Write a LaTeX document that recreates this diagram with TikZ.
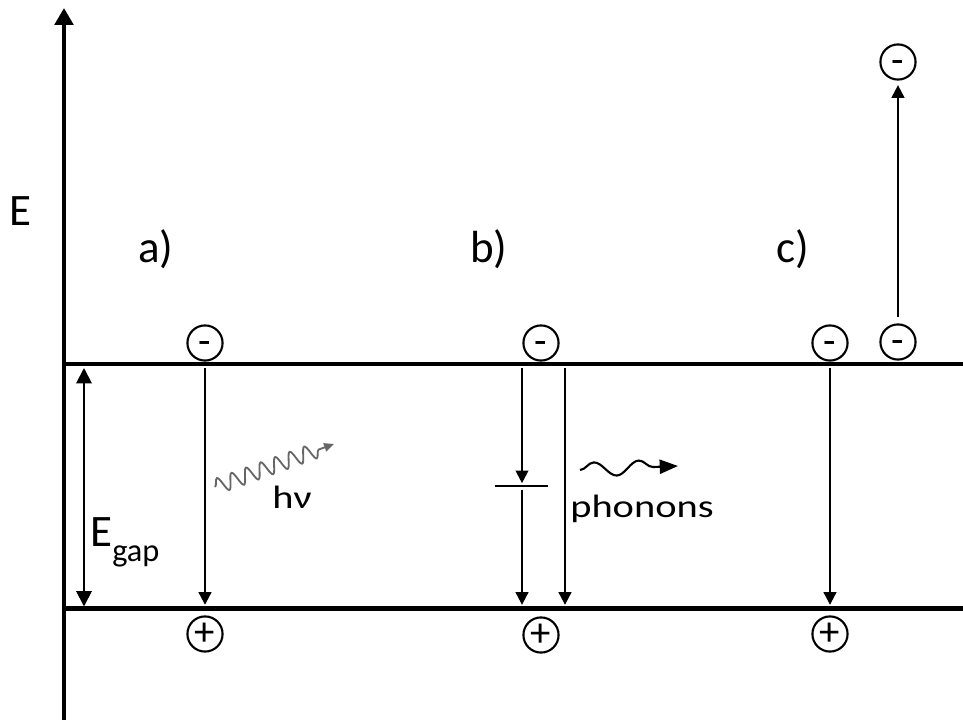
\documentclass[tikz,border=0pt]{standalone}
\usepackage{fontspec}
\setmainfont{Carlito}
\newfontfamily\widefont{Carlito}[FakeStretch=1.25]
\usetikzlibrary{arrows.meta,decorations.pathmorphing}

\begin{document}
\begin{tikzpicture}[x=0.025cm, y=-0.025cm, >={Triangle[length=9pt,width=9pt]}]
        \tikzstyle{charge}=[draw, circle, line width=1.5pt, minimum size=25pt, inner sep=0pt, font=\fontsize{29}{29}\selectfont];
        \tikzstyle{electron}=[charge, text height=17pt, text depth=0pt];
        \tikzstyle{band}=[line width=3.2pt];
        \tikzstyle{trans}=[->, line width=1.5pt];
        \tikzstyle{big}=[inner sep=0pt, anchor=base west, font=\fontsize{32}{32}\selectfont];
        \tikzstyle{small}=[inner sep=0pt, anchor=base west, font=\widefont\fontsize{23}{23}\selectfont];
        \tikzstyle{photon}=[->, >={Triangle[length=7pt,width=6pt]}, black!60, line width=1.3pt, decorate, decoration={snake, amplitude=5.5pt, segment length=11pt, post length=8pt}];
        \tikzstyle{phonon}=[->, >={Triangle[length=13pt,width=10pt]}, line width=1.5pt, decorate, decoration={snake, amplitude=5pt, segment length=32pt, post length=12pt}];

        \useasboundingbox (0,0) rectangle (963,720);

        \coordinate (axbot) at (64,720);
        \coordinate (axtop) at (64,8);
        \coordinate (cbl) at (64,364);
        \coordinate (cbr) at (963,364);
        \coordinate (vbl) at (64,608.5);
        \coordinate (vbr) at (963,608.5);

        \draw[band, -{Triangle[length=12pt,width=13pt]}] (axbot) -- (axtop);
        \draw[band] (cbl) -- (cbr);
        \draw[band] (vbl) -- (vbr);
        \draw[<->, line width=1.4pt, >={Triangle[length=11pt,width=11pt]}] ([shift={(20,4)}]cbl) -- ([shift={(20,-2)}]vbl);

        \node[big] (elabel) at (9,226) {E};
        \node[big] (alabel) at (138,263) {a)};
        \node[big] (blabel) at (470,263) {b)};
        \node[big] (clabel) at (776,263) {c)};
        \node[big] (gaplabel) at (90,547) {E\raisebox{-10.5pt}{\fontsize{23}{23}\selectfont gap}};
        \node[small] (hnu) at (272,509) {hν};
        \node[small] (phon) at (570,518) {phonons};

        \node[electron] (ea) at (205,343) {-};
        \node[electron] (eb) at (541,343) {-};
        \node[electron] (ec) at (830,343) {-};
        \node[electron] (ed) at (898,342) {-};
        \node[electron] (ef) at (898,62) {-};
        \node[charge] (ha) at (205,634) {+};
        \node[charge] (hb) at (541,635) {+};
        \node[charge] (hc) at (830,634) {+};

        \coordinate (trap) at (522,486);
        \coordinate (bdirect) at (565,486);

        \draw[trans, shorten <=4.6pt, shorten >=7.5pt] (ea) -- (ha);
        \draw[trans, shorten <=4.6pt, shorten >=2pt] (eb.south -| trap) -- (trap);
        \draw[line width=1.5pt] ([shift={(-27,0)}]trap) -- ([shift={(26,0)}]trap);
        \draw[trans, shorten <=2.8pt, shorten >=8.2pt] (trap) -- (hb.north -| trap);
        \draw[trans, shorten <=4.6pt, shorten >=8.2pt] (eb.south -| bdirect) -- (hb.north -| bdirect);
        \draw[trans, shorten <=4.6pt, shorten >=7.5pt] (ec) -- (hc);
        \draw[trans, shorten <=4.6pt, shorten >=3.2pt] (ed) -- (ef);

        \coordinate (phs) at (215,487);
        \coordinate (phe) at (334,444);
        \draw[photon] (phs) -- (phe);
        \coordinate (pns) at (580,470);
        \coordinate (pne) at (678,466);
        \draw[phonon] (pns) -- (pne);
    \end{tikzpicture}
\end{document}
